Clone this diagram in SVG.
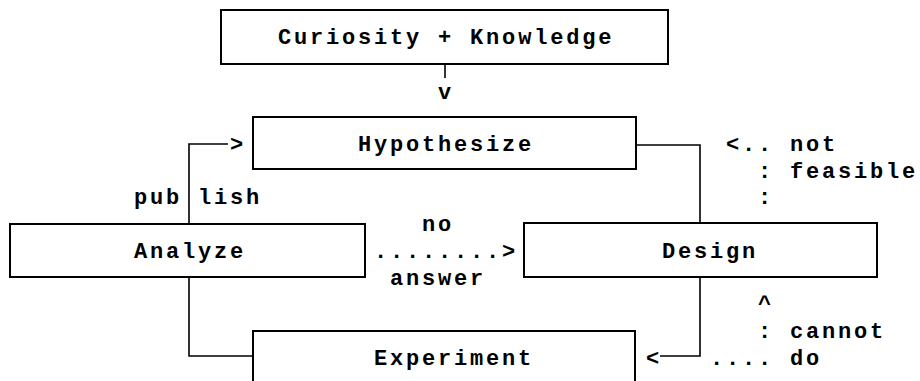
<svg xmlns="http://www.w3.org/2000/svg" width="920" height="381" viewBox="0 0 920 381">
<style>
text{font-family:"Liberation Mono","DejaVu Sans Mono",monospace;font-weight:bold;font-size:22px;letter-spacing:2.8px;fill:#000}
.box{fill:none;stroke:#000;stroke-width:2}
.con{fill:none;stroke:#000;stroke-width:1.6}
</style>
<rect width="920" height="381" fill="#fff"/>
<g id="connectors">
<path class="con" d="M445,64 V78"/>
<path class="con" d="M636,145 H700 V223"/>
<path class="con" d="M189,224 V144 H228"/>
<path class="con" d="M700,277 V356 H660"/>
<path class="con" d="M189,277 V356 H253"/>
</g>
<g id="curiosity">
<rect class="box" x="221" y="10" width="447" height="54"/>
<text x="278.1" y="44">Curiosity + Knowledge</text>
</g>
<g id="hypothesize">
<rect class="box" x="253" y="117" width="383" height="52"/>
<text x="358.1" y="150.75">Hypothesize</text>
</g>
<g id="analyze">
<rect class="box" x="10" y="224" width="355" height="53"/>
<text x="134.1" y="257.75">Analyze</text>
</g>
<g id="design">
<rect class="box" x="524" y="223" width="353" height="54"/>
<text x="662.1" y="257.75">Design</text>
</g>
<g id="experiment">
<path class="box" d="M253,383 V331 H635 V383"/>
<text x="374.1" y="364.75">Experiment</text>
</g>
<g id="labels">
<text x="438.1" y="99">v</text>
<text x="230.1" y="150.75">&gt;</text>
<text x="134.1" y="204.25">pub</text>
<text x="198.1" y="204.25">lish</text>
<text x="726.1" y="150.75">&lt;.. not</text>
<text x="758.1" y="177.5">: feasible</text>
<text x="758.1" y="204.25">:</text>
<text x="422.1" y="231">no</text>
<text x="374.1" y="257.75">........&gt;</text>
<text x="390.1" y="284.5">answer</text>
<text x="758.1" y="311.25">^</text>
<text x="758.1" y="338">: cannot</text>
<text x="646.1" y="364.75">&lt;</text>
<text x="710.1" y="364.75">.... do</text>
</g>
</svg>
